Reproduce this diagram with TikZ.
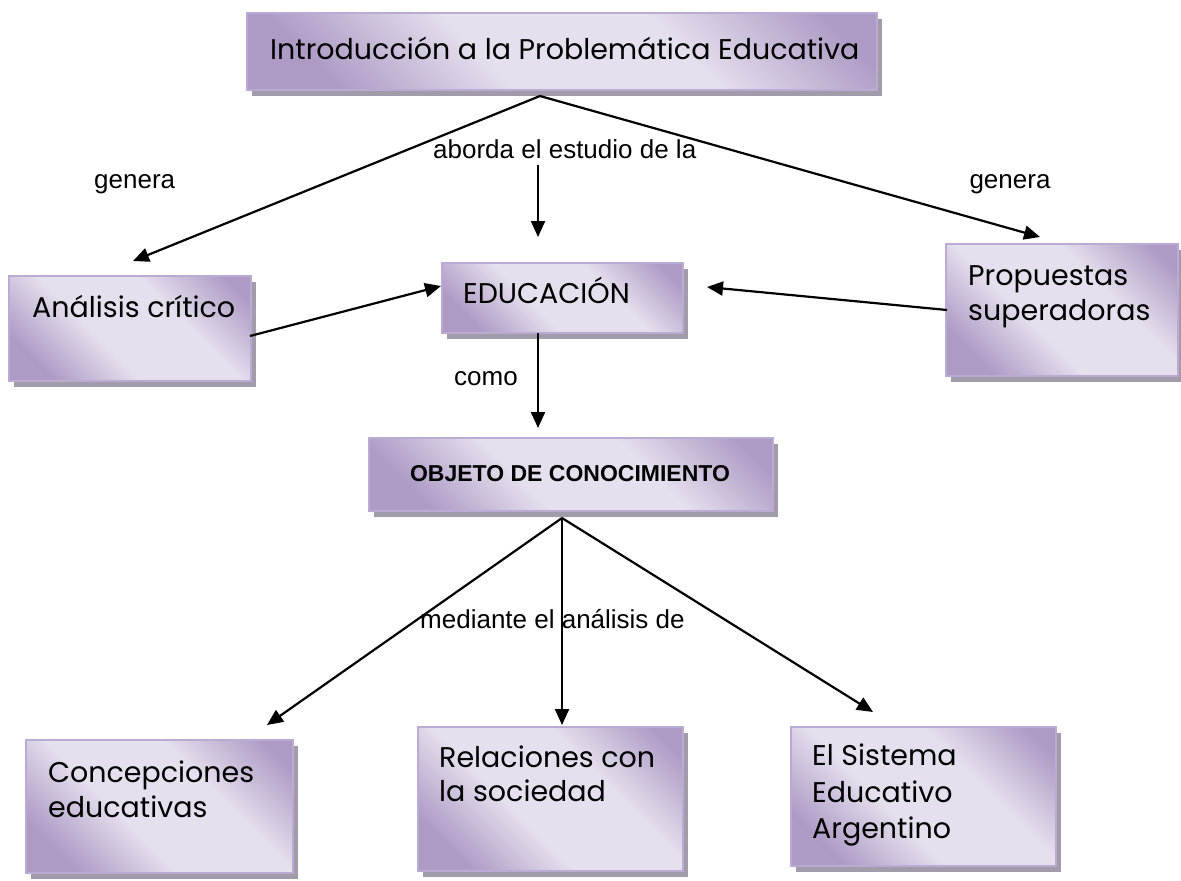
\documentclass[tikz,border=0pt]{standalone}
\usepackage{fontspec}
\setmainfont{Liberation Sans}
\newfontfamily\boxfont{Poppins}
\usetikzlibrary{arrows.meta,shadows}
\definecolor{boxlight}{HTML}{E6E0EE}
\definecolor{boxdark}{HTML}{AD9BC5}
\definecolor{boxborder}{HTML}{BBABD4}
\definecolor{shadowgray}{HTML}{A29CAA}
\pgfdeclarehorizontalshading{boxshade}{100bp}{color(0bp)=(boxdark); color(24bp)=(boxdark); color(42bp)=(boxlight); color(62bp)=(boxlight); color(80bp)=(boxdark); color(100bp)=(boxdark)}
\begin{document}
\begin{tikzpicture}[x=1pt,y=-1pt,
  box/.style={draw=boxborder, line width=1.5pt, shading=boxshade, shading angle=45, inner sep=0pt, anchor=north west,
    drop shadow={shadow xshift=5pt, shadow yshift=-6pt, fill=shadowgray, opacity=1}},
  btext/.style={font=\boxfont\fontsize{28.5}{36}\selectfont, anchor=base west, inner sep=0pt},
  lbl/.style={font=\fontsize{26}{30}\selectfont, inner sep=0pt, anchor=base west},
  conn/.style={line width=2.2pt, -{Triangle[length=16pt,width=14pt]}}]
\useasboundingbox[fill=white] (0,0) rectangle (1181,881);

% boxes
\node[box, minimum width=630pt, minimum height=77pt] (intro) at (246,12) {};
\node[box, minimum width=242pt, minimum height=105pt] (analisis) at (8,275) {};
\node[box, minimum width=241pt, minimum height=70pt] (educ) at (441,262) {};
\node[box, minimum width=232pt, minimum height=132pt] (prop) at (945,243) {};
\node[box, minimum width=404pt, minimum height=73pt] (objeto) at (368,437) {};
\node[box, minimum width=267pt, minimum height=133pt] (conc) at (25,739) {};
\node[box, minimum width=265pt, minimum height=144pt] (rel) at (417,726) {};
\node[box, minimum width=265pt, minimum height=139pt] (sis) at (790,726) {};

% box texts
\node[btext] (introT) at (270,59) {Introducción a la Problemática Educativa};
\node[btext] (analisisT) at (32,317) {Análisis crítico};
\node[btext] (educT) at (463,303) {EDUCACIÓN};
\node[btext] (propT1) at (968,285) {Propuestas};
\node[btext] (propT2) at (968,320) {superadoras};
\node[font=\fontsize{23}{27}\selectfont\bfseries, inner sep=0pt, anchor=base] (objT) at (570,481) {OBJETO DE CONOCIMIENTO};
\node[btext] (concT1) at (48,782) {Concepciones};
\node[btext] (concT2) at (48,817) {educativas};
\node[btext] (relT1) at (439,767) {Relaciones con};
\node[btext] (relT2) at (439,801) {la sociedad};
\node[btext] (sisT1) at (812,765) {El Sistema};
\node[btext] (sisT2) at (812,802) {Educativo};
\node[btext] (sisT3) at (812,838) {Argentino};

% labels
\node[lbl] (l1) at (94,188) {genera};
\node[lbl] (l2) at (433,158) {aborda el estudio de la};
\node[lbl, anchor=base] (l3) at (1010,188) {genera};
\node[lbl] (l4) at (454,385) {como};
\node[lbl] (l5) at (420,628) {mediante el análisis de};

% connector points
\coordinate (introApex) at (540,96);
\coordinate (aLeftTip) at (133,261);
\coordinate (aRightTip) at (1040,237);
\coordinate (abordaTop) at (538,165);
\coordinate (abordaTip) at (538,237);
\coordinate (anaOut) at (250,336);
\coordinate (educInL) at (441,286);
\coordinate (propOut) at (947,310);
\coordinate (educInR) at (707,287);
\coordinate (educOut) at (538,333);
\coordinate (objIn) at (538,428);
\coordinate (objApex) at (562,518);
\coordinate (concTip) at (267,725);
\coordinate (relTip) at (562,725);
\coordinate (sisTip) at (873,712);

\draw[conn] (introApex) -- (aLeftTip);
\draw[conn] (introApex) -- (aRightTip);
\draw[conn] (abordaTop) -- (abordaTip);
\draw[conn] (anaOut) -- (educInL);
\draw[conn] (propOut) -- (educInR);
\draw[conn] (educOut) -- (objIn);
\draw[conn] (objApex) -- (concTip);
\draw[conn] (objApex) -- (relTip);
\draw[conn] (objApex) -- (sisTip);
\end{tikzpicture}
\end{document}
